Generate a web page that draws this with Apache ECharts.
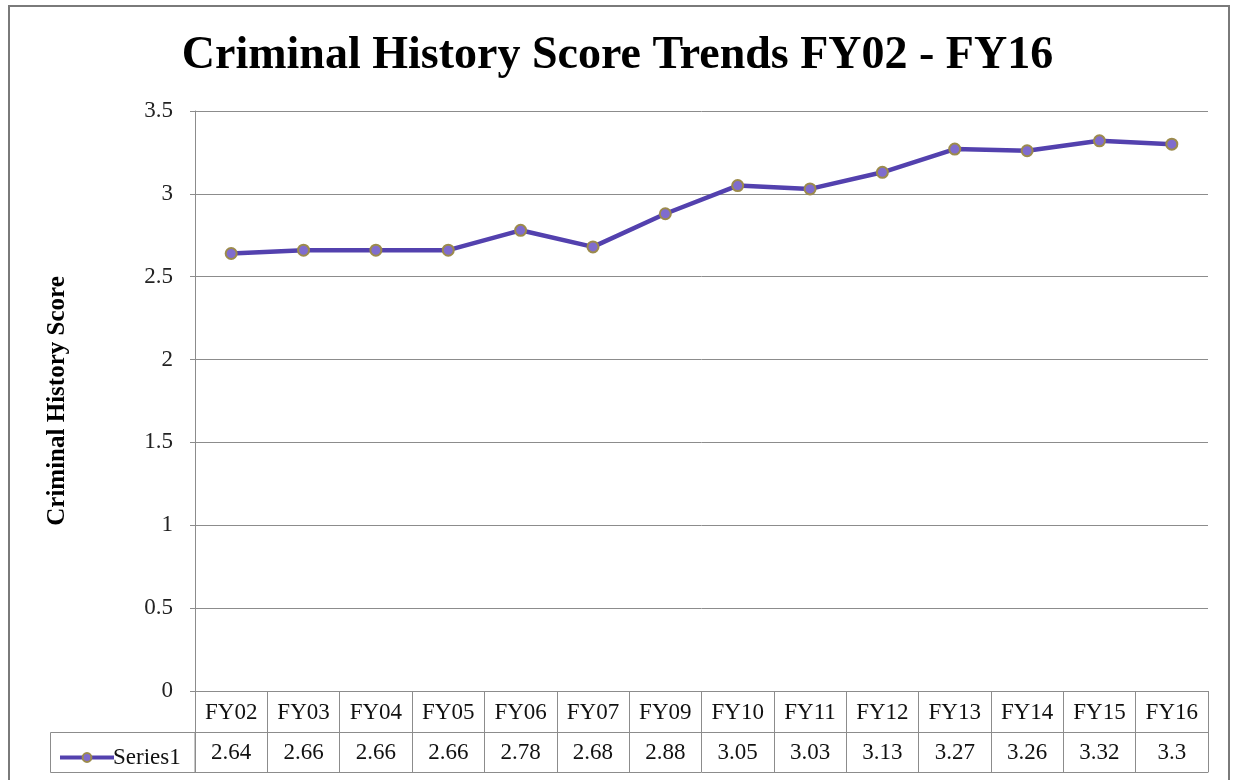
<!DOCTYPE html>
<html>
<head>
<meta charset="utf-8">
<script src="https://cdn.jsdelivr.net/npm/echarts@6/dist/echarts.min.js"></script>
<style>
  html, body { margin: 0; padding: 0; background: #fff; }
  #chart { width: 1235px; height: 780px; }
</style>
</head>
<body>
<div id="chart"></div>
<script>
const CATEGORIES = ['FY02', 'FY03', 'FY04', 'FY05', 'FY06', 'FY07', 'FY09',
    'FY10', 'FY11', 'FY12', 'FY13', 'FY14', 'FY15', 'FY16']
const SERIES1 = [2.64, 2.66, 2.66, 2.66, 2.78, 2.68, 2.88,
    3.05, 3.03, 3.13, 3.27, 3.26, 3.32, 3.3]
const Y_TICKS = [0, 0.5, 1, 1.5, 2, 2.5, 3, 3.5]

const FONT = '"Liberation Serif", "DejaVu Serif", serif'
const GRID_COLOR = '#8c8c8c'

let chart = echarts.init(document.getElementById('chart'))

let option = {
    backgroundColor: '#fff',
    title: {
        text: 'Criminal History Score Trends FY02 - FY16',
        left: 'center',
        top: 28,
        textStyle: { fontFamily: FONT, fontWeight: 'bold', fontSize: 46, color: '#000' }
    },
    legend: {
        left: 53,
        top: 741,
        itemWidth: 54,
        itemHeight: 11,
        itemGap: 0,
        lineStyle: { width: 4 },
        textStyle: { fontFamily: FONT, fontSize: 23, color: '#111', padding: [0, 0, 0, -6] },
        data: ['Series1']
    },
    grid: { left: 195, right: 27, top: 111, bottom: 89 },
    xAxis: [
        {
            type: 'category',
            data: CATEGORIES,
            position: 'bottom',
            boundaryGap: true,
            axisLine: { show: true, lineStyle: { color: GRID_COLOR, width: 1 } },
            axisTick: { show: true, length: 41, lineStyle: { color: GRID_COLOR } },
            axisLabel: { margin: 10, fontFamily: FONT, fontSize: 23, color: '#111', interval: 0 }
        },
        {
            type: 'category',
            data: SERIES1.map(String),
            position: 'bottom',
            offset: 41,
            boundaryGap: true,
            axisLine: { show: true, lineStyle: { color: GRID_COLOR, width: 1 } },
            axisTick: { show: true, length: 40, lineStyle: { color: GRID_COLOR } },
            axisLabel: { margin: 9, fontFamily: FONT, fontSize: 23, color: '#111', interval: 0 }
        },
        {
            type: 'category',
            data: CATEGORIES,
            position: 'bottom',
            offset: 81,
            axisLine: { show: true, lineStyle: { color: GRID_COLOR, width: 1 } },
            axisTick: { show: false },
            axisLabel: { show: false }
        }
    ],
    yAxis: {
        type: 'value',
        min: Y_TICKS[0],
        max: Y_TICKS[Y_TICKS.length - 1],
        interval: 0.5,
        name: 'Criminal History Score',
        nameLocation: 'middle',
        nameGap: 125,
        nameTextStyle: { fontFamily: FONT, fontWeight: 'bold', fontSize: 25, color: '#000' },
        axisLine: { show: true, lineStyle: { color: GRID_COLOR, width: 1 } },
        axisTick: { show: true, length: 5, lineStyle: { color: GRID_COLOR } },
        axisLabel: { margin: 22, fontFamily: FONT, fontSize: 23, color: '#222' },
        splitLine: { show: true, lineStyle: { color: GRID_COLOR, width: 1 } }
    },
    series: [
        {
            name: 'Series1',
            type: 'line',
            data: SERIES1,
            symbol: 'circle',
            symbolSize: 11,
            lineStyle: { color: '#5341ae', width: 4.5 },
            itemStyle: { color: '#7f6cce', borderColor: '#9c8b4c', borderWidth: 2 },
            emphasis: { disabled: true }
        }
    ],
    graphic: [
        {
            type: 'rect',
            shape: { x: 9, y: 6, width: 1220, height: 790 },
            style: { fill: null, stroke: '#7a7a7a', lineWidth: 2 },
            silent: true
        },
        {
            type: 'rect',
            shape: { x: 50.5, y: 732.5, width: 144.5, height: 40 },
            style: { fill: null, stroke: GRID_COLOR, lineWidth: 1 },
            silent: true
        }
    ]
}

chart.setOption(option)
</script>
</body>
</html>
